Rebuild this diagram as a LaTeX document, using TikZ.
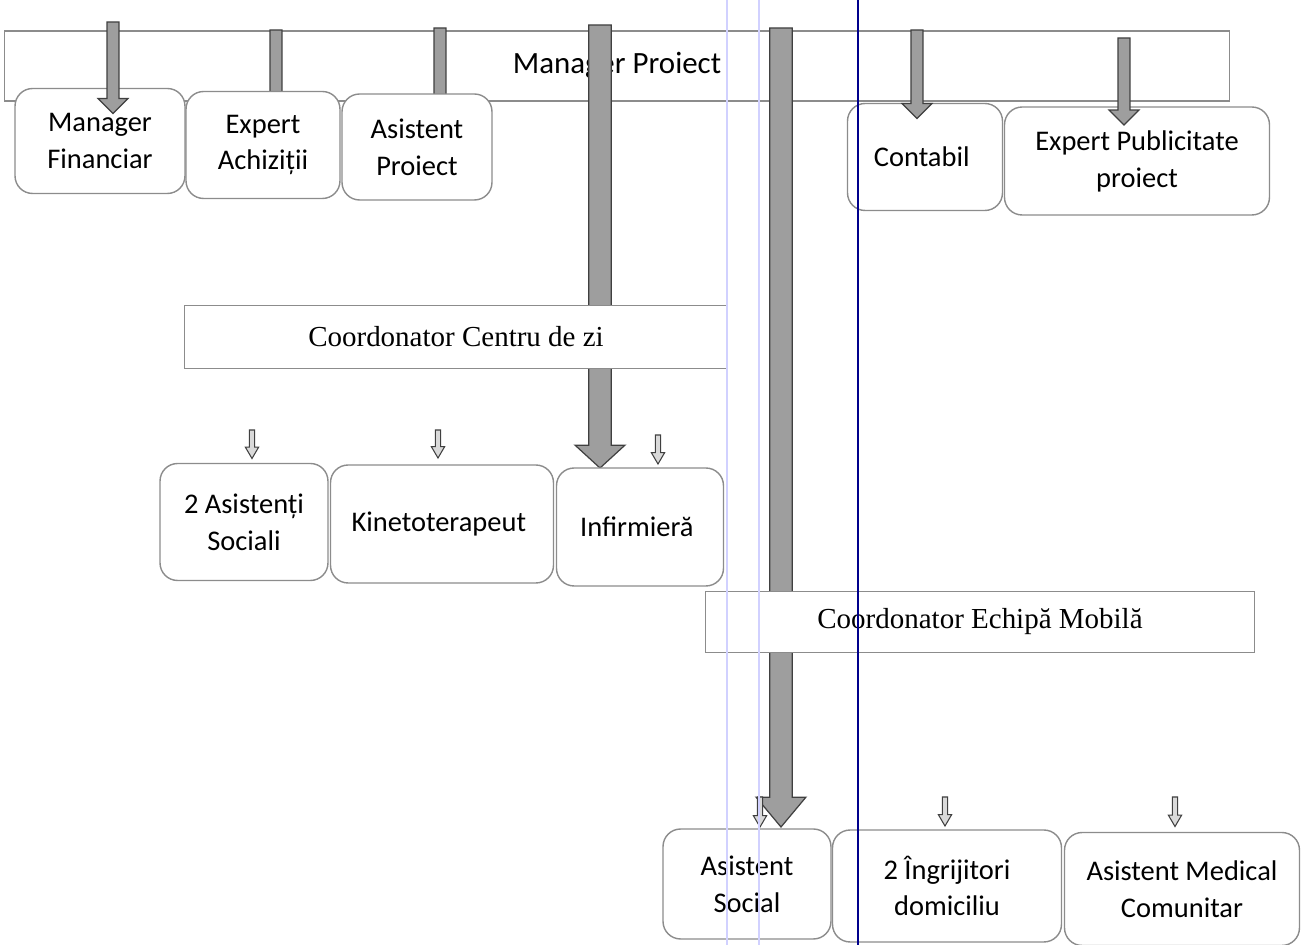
\documentclass[tikz,border=0pt]{standalone}
\usepackage{fontspec}
\setmainfont{Liberation Serif}
\newfontfamily\boxfont{Carlito}
\usetikzlibrary{calc,backgrounds}

\begin{document}
\begin{tikzpicture}[x=0.02cm, y=-0.02cm,
    role_box/.style={
        rectangle,
        rounded corners=10pt,
        draw=black!45,
        line width=0.8pt,
        fill=white,
        align=center,
        inner sep=2pt,
        outer sep=0pt,
        font=\boxfont\fontsize{16.2}{21}\selectfont
    },
    lead_box/.style={
        rectangle,
        draw=black!45,
        line width=0.8pt,
        fill=white,
        inner sep=2pt,
        outer sep=0pt,
        font=\fontsize{16.5}{20}\selectfont
    },
    block_arrow/.style n args={3}{draw=black!75, fill=black!38, line width=0.7pt,
        to path={let \p1=(\tikztostart), \p2=(\tikztotarget) in
            (\x1-#1,\y1) -- (\x1-#1,\y2+#3) -- (\x1-#2,\y2+#3) -- (\x1,\y2)
            -- (\x1+#2,\y2+#3) -- (\x1+#1,\y2+#3) -- (\x1+#1,\y1) -- cycle}},
    big_arrow/.style={block_arrow={6.4pt}{14.2pt}{13pt}},
    mid_arrow/.style={block_arrow={3.4pt}{8.5pt}{8.5pt}},
    small_arrow/.style={block_arrow={1.5pt}{3.8pt}{6.5pt}, fill=black!15, line width=0.6pt}
]
    \useasboundingbox (0,0) rectangle (1303,945);

    \begin{scope}[on background layer]
        \node (manager_proiect) [lead_box, minimum width=24.5cm, minimum height=1.4cm,
            font=\boxfont\fontsize{17.6}{20}\selectfont] at (617,66)
        {
            Manager Proiect
        };
    \end{scope}

    % first row
    \node (manager_financiar) [role_box, minimum width=3.4cm, minimum height=2.1cm] at (100,141)
    {
        Manager\\Financiar
    };
    \node (expert_achizitii) [role_box, minimum width=3.08cm, minimum height=2.14cm] at (263,145)
    {
        Expert\\Achiziții
    };
    \node (asistent_proiect) [role_box, minimum width=3.0cm, minimum height=2.12cm] at (417,147)
    {
        Asistent\\Proiect
    };
    \node (contabil) [role_box, minimum width=3.1cm, minimum height=2.14cm] at (925,157)
    {
        Contabil
    };
    \node (expert_publicitate) [role_box, minimum width=5.3cm, minimum height=2.16cm] at (1137,161)
    {
        Expert Publicitate\\proiect
    };

    % centru de zi
    \node (coordonator_centru) [lead_box, minimum width=10.86cm, minimum height=1.26cm] at (456,337)
    {
        Coordonator Centru de zi
    };
    \node (asistenti_sociali) [role_box, minimum width=3.36cm, minimum height=2.34cm] at (244,522)
    {
        2 Asistenți\\Sociali
    };
    \node (kinetoterapeut) [role_box, minimum width=4.46cm, minimum height=2.36cm] at (442,524)
    {
        Kinetoterapeut
    };
    \node (infirmiera) [role_box, minimum width=3.34cm, minimum height=2.36cm] at (640,527)
    {
        Infirmieră
    };

    % echipa mobila
    \node (coordonator_echipa) [lead_box, minimum width=10.98cm, minimum height=1.22cm] at (980,622)
    {
        Coordonator Echipă Mobilă
    };
    \node (asistent_social) [role_box, minimum width=3.36cm, minimum height=2.2cm] at (747,884)
    {
        Asistent\\Social
    };
    \node (ingrijitori) [role_box, minimum width=4.58cm, minimum height=2.24cm] at (947,886)
    {
        2 Îngrijitori\\domiciliu
    };
    \node (asistent_medical) [role_box, minimum width=4.7cm, minimum height=2.26cm] at (1182,889)
    {
        Asistent Medical\\Comunitar
    };

    \coordinate (top_financiar) at (113,22);
    \coordinate (top_achizitii) at (276,30);
    \coordinate (top_asistent) at (440,28);
    \coordinate (top_contabil) at (917,30);
    \coordinate (top_publicitate) at (1124,38);
    \coordinate (top_centru) at (600,25);
    \coordinate (top_echipa) at (781,28);
    \coordinate (from_centru_1) at (252,430);
    \coordinate (from_centru_2) at (438,430);
    \coordinate (from_centru_3) at (658,435);
    \coordinate (from_echipa_1) at (760,797);
    \coordinate (from_echipa_2) at (945,797);
    \coordinate (from_echipa_3) at (1175,797);

    \begin{scope}[on background layer]
        \draw[mid_arrow] (top_achizitii) to ($(expert_achizitii.north)+(0,25)$);
        \draw[mid_arrow] (top_asistent) to ($(asistent_proiect.north)+(0,25)$);
        \draw[big_arrow] (top_centru) to (infirmiera.north);
        \draw[block_arrow={6.4pt}{14.2pt}{17pt}] (top_echipa) to ($(asistent_social.north)+(0,-2)$);
    \end{scope}

    \draw[mid_arrow] (top_financiar) to ($(manager_financiar.north)+(0,25)$);
    \draw[mid_arrow] (top_contabil) to ($(contabil.north)+(0,15)$);
    \draw[mid_arrow] (top_publicitate) to ($(expert_publicitate.north)+(0,18)$);

    \draw[small_arrow] (from_centru_1) to ($(asistenti_sociali.north)+(0,-5)$);
    \draw[small_arrow] (from_centru_2) to ($(kinetoterapeut.north)+(0,-7)$);
    \draw[small_arrow] (from_centru_3) to ($(infirmiera.north)+(0,-4)$);
    \draw[small_arrow] (from_echipa_1) to ($(asistent_social.north)+(0,-2)$);
    \draw[small_arrow] (from_echipa_2) to ($(ingrijitori.north)+(0,-4)$);
    \draw[small_arrow] (from_echipa_3) to ($(asistent_medical.north)+(0,-6)$);

    % scan lines
    \draw[blue!18, line width=0.6pt] (727,0) -- (727,945);
    \draw[blue!18, line width=0.6pt] (759,0) -- (759,945);
    \draw[blue!55!black, line width=1.1pt] (858,0) -- (858,945);

\end{tikzpicture}
\end{document}
